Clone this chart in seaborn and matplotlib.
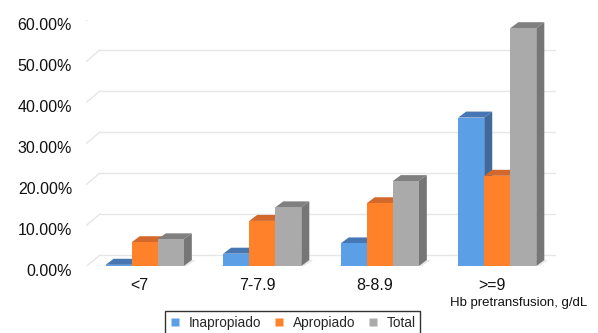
import matplotlib
matplotlib.use("Agg")
import matplotlib.pyplot as plt
import matplotlib.transforms as mtransforms
from matplotlib.patches import Polygon
from matplotlib.lines import Line2D
import seaborn as sns
import pandas as pd

# Share of transfusions by pre-transfusion haemoglobin range (%)
categories = ["<7", "7-7.9", "8-8.9", ">=9"]
inapropiado = [0.3, 3.0, 5.5, 36.2]
apropiado = [5.8, 11.0, 15.3, 22.0]
total = [6.5, 14.3, 20.7, 58.0]
series = ["Inapropiado", "Apropiado", "Total"]
yticks = [0, 10, 20, 30, 40, 50, 60]
ytick_labels = [f"{v:.2f}%" for v in yticks]

front_colors = ["#5B9FE6", "#FF8129", "#AAAAAA"]
top_colors = ["#4777B3", "#D2682C", "#808080"]
side_colors = ["#3F6A9E", "#B85A22", "#767676"]

df = pd.DataFrame({
    "rango": categories * 3,
    "serie": [s for s in series for _ in categories],
    "valor": inapropiado + apropiado + total,
})

sns.set_style("white")
plt.rcParams["font.family"] = ["Liberation Sans", "DejaVu Sans"]

W, H = 598, 333
fig = plt.figure(figsize=(W / 100, H / 100), dpi=100)
ax = fig.add_axes([86 / W, (H - 266) / H, 470 / W, 246 / H])

sns.barplot(data=df, x="rango", y="valor", hue="serie", order=categories,
            hue_order=series, palette=front_colors, saturation=1,
            width=0.665, gap=0, legend=False, ax=ax, zorder=3)
ax.set_xlim(-0.5, 3.5)
ax.set_ylim(0, 60)
for s in ax.spines.values():
    s.set_visible(False)
ax.set_ylabel("")
ax.tick_params(length=0)

px = mtransforms.IdentityTransform()
to_disp = ax.transData.transform

# back wall grid lines, left side wall segments and floor
grid_c = "#E6E6E6"
x_left = to_disp((-0.5, 0))[0]
x_right = to_disp((3.5, 0))[0]
for v in yticks:
    yd = to_disp((0, v))[1]
    ax.add_line(Line2D([x_left - 4, x_left + 14], [yd - 4, yd + 11],
                       transform=px, color=grid_c, lw=1.0, zorder=1))
    ax.add_line(Line2D([x_left + 14, x_right + 16], [yd + 11, yd + 11],
                       transform=px, color=grid_c, lw=1.0, zorder=1))
y0d = to_disp((0, 0))[1]
ax.add_line(Line2D([x_left - 4, x_right - 4, x_right + 16],
                   [y0d - 4, y0d - 4, y0d + 11],
                   transform=px, color="#DADADA", lw=1.2, zorder=1))

# depth faces for each bar
dx, dy = 8, 6
bars = [p for p in ax.patches]
for i, bar in enumerate(bars):
    j = i // len(categories)
    bar.set_zorder(3 + j)
    bar.set_edgecolor("none")
    x0, yb = bar.get_x(), bar.get_y()
    w, h = bar.get_width(), bar.get_height()
    (a0, b0) = to_disp((x0, yb))
    (a1, b1) = to_disp((x0 + w, yb + h))
    # soft shadow on the floor
    shadow = Polygon([(a0 - 6, b0 - 2), (a1, b0 - 2), (a1 + dx + 4, b0 + dy),
                      (a0 + dx, b0 + dy)], closed=True, transform=px,
                     facecolor="#BDBDBD", alpha=0.35, edgecolor="none", zorder=2)
    ax.add_patch(shadow)
    top = Polygon([(a0, b1), (a1, b1), (a1 + dx, b1 + dy), (a0 + dx, b1 + dy)],
                  closed=True, transform=px, facecolor=top_colors[j],
                  edgecolor="none", zorder=3 + j - 0.5)
    side = Polygon([(a1, b0), (a1 + dx, b0 + dy), (a1 + dx, b1 + dy), (a1, b1)],
                   closed=True, transform=px, facecolor=side_colors[j],
                   edgecolor="none", zorder=3 + j - 0.5)
    ax.add_patch(top)
    ax.add_patch(side)

# axis labels
ax.set_yticks(yticks)
ax.set_yticklabels(ytick_labels, fontsize=11.5, color="#111111")
ax.tick_params(axis="y", pad=10)
for lab in ax.get_yticklabels():
    lab.set_transform(lab.get_transform() +
                      mtransforms.ScaledTranslation(0, -0.04, fig.dpi_scale_trans))
ax.set_xticks(range(len(categories)))
ax.set_xticklabels(categories, fontsize=11.5, color="#111111")
ax.tick_params(axis="x", pad=9)
for lab in ax.get_xticklabels():
    lab.set_transform(lab.get_transform() +
                      mtransforms.ScaledTranslation(-0.05, 0, fig.dpi_scale_trans))
ax.set_xlabel("Hb pretransfusion, g/dL", fontsize=9.5, color="#111111",
              ha="center", va="center")
ax.xaxis.set_label_coords((519 - 86) / 470, (266 - 303) / 246)

handles = [Line2D([], [], linestyle="none", marker="s", markersize=6,
                  markerfacecolor=c, markeredgecolor="none") for c in front_colors]
leg = fig.legend(handles, series, loc="upper left",
                 bbox_to_anchor=(165 / W, (H - 311) / H), ncol=3,
                 fontsize=9.8, frameon=True, fancybox=False, edgecolor="black",
                 handlelength=0.8, handletextpad=0.6, columnspacing=0.9,
                 borderpad=0.35, borderaxespad=0)
leg.get_frame().set_linewidth(1.0)

fig.savefig("out.png", dpi=100)
